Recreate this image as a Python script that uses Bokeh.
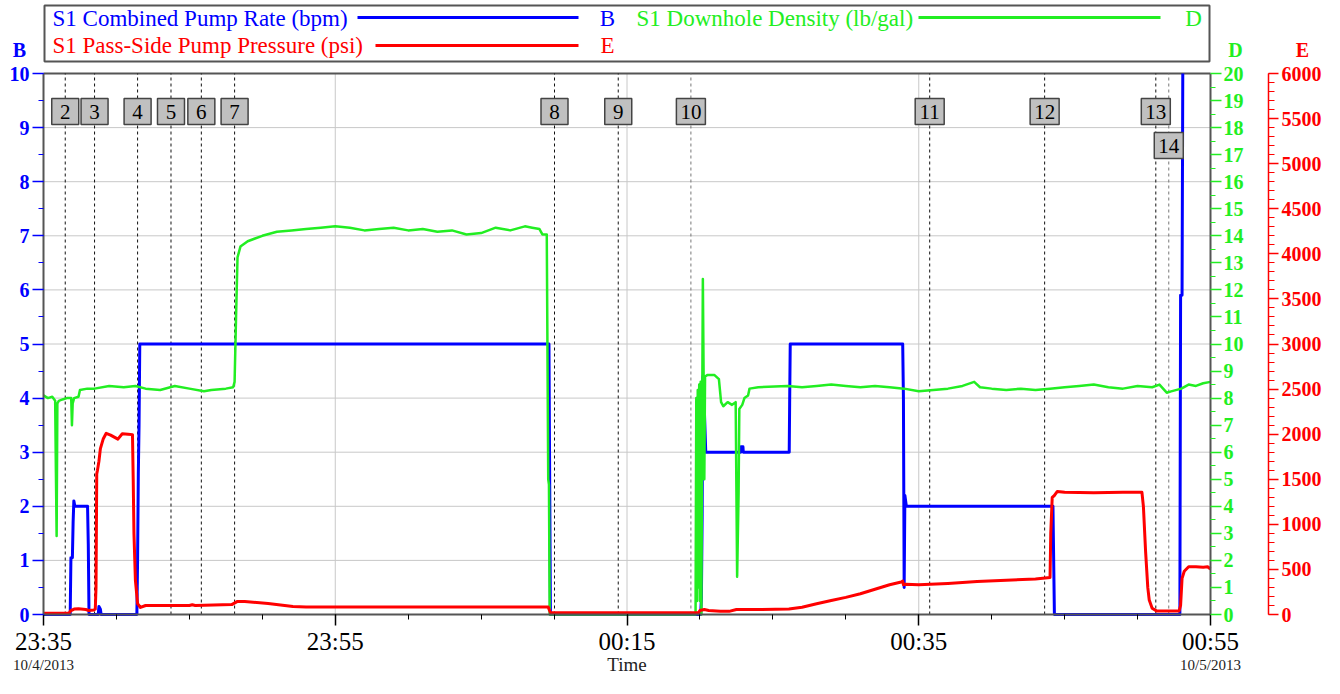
from bokeh.plotting import figure
from bokeh.models import Range1d, LinearAxis, FixedTicker
from bokeh.embed import file_html
from bokeh.resources import INLINE
from bokeh.core.properties import value

FONT = "Liberation Serif"
BLUE = "#0000FF"
RED = "#FF0000"
GREEN = "#22EE22"
AXIS_GREY = "#555555"
GRID_GREY = "#C8C8C8"

# ---- data (time = minutes after 23:35 on 10/4/2013) ----
rate_t = [0, 1.83, 1.88, 1.98, 2.03, 2.08, 2.15, 3.02, 3.07, 3.12, 3.75, 3.8, 3.9, 3.95,
          6.4, 6.45, 6.5, 6.55, 6.6, 34.65, 34.75, 45.05, 45.1, 45.15, 45.2, 45.3, 45.4,
          47.8, 47.82, 47.95, 47.97, 51.12, 51.15, 51.19, 58.9, 58.95, 59.0, 59.05, 59.15,
          69.2, 69.3, 77.9, 77.95, 78.05, 78.1]
rate_v = [0, 0, 1.05, 1.05, 1.7, 2.1, 2.0, 2.0, 1.3, 0, 0, 0.15, 0.1, 0,
          0, 1.0, 2.6, 3.5, 5.0, 5.0, 0, 0, 0.3, 1.8, 4.4, 3.8, 3.0,
          3.0, 3.1, 3.1, 3.0, 3.0, 3.9, 5.0, 5.0, 4.0, 0.5, 2.2, 2.0,
          2.0, 0, 0, 5.9, 5.9, 10.0]

dens_t = [0, 0.3, 0.6, 0.8, 0.85, 0.9, 0.95, 1.05, 1.3, 1.6, 1.9, 1.95, 2.0, 2.1, 2.4, 2.5,
          3.0, 3.5, 4.5, 5.5, 6.3, 7.0, 8.0, 9.0, 10.0, 11.0, 11.5, 12.5, 13.0,
          13.1, 13.2, 13.3, 13.5, 14.0, 14.5, 15.0, 16.0, 17.0, 18.0, 19.0, 20.0, 21.0, 22.0,
          23.0, 24.0, 25.0, 26.0, 27.0, 28.0, 29.0, 30.0, 31.0, 32.0, 33.0, 33.5, 34.0, 34.2,
          34.5, 34.6, 34.65, 34.7,
          44.7, 44.75, 44.8, 44.85, 44.9, 44.95, 45.0, 45.05, 45.1, 45.15, 45.2, 45.25, 45.3,
          45.35, 45.5, 46.0, 46.3, 46.45, 46.6, 46.9, 47.2, 47.45, 47.55, 47.65, 47.7, 47.9,
          48.05, 48.3, 48.4, 49.0, 51.0, 52.0, 53.0, 54.0, 55.0, 56.0, 57.0, 58.0, 59.0, 60.0,
          61.0, 62.0, 63.0, 63.8, 64.2, 65.0, 66.0, 67.0, 68.0, 69.0, 70.0, 71.0, 72.0, 73.0,
          74.0, 75.0, 76.0, 76.5, 77.0, 77.3, 78.0, 78.5, 79.0, 79.5, 80.0]
dens_v = [8.1, 8.0, 8.05, 7.9, 5.3, 2.9, 7.8, 7.9, 7.95, 8.0, 8.0, 7.0, 7.8, 8.0, 8.05, 8.3,
          8.35, 8.35, 8.45, 8.4, 8.45, 8.35, 8.3, 8.45, 8.35, 8.25, 8.3, 8.35, 8.4,
          8.6, 11.0, 13.2, 13.6, 13.8, 13.9, 14.0, 14.15, 14.2, 14.25, 14.3, 14.35, 14.3, 14.2,
          14.25, 14.3, 14.2, 14.25, 14.15, 14.2, 14.05, 14.1, 14.3, 14.2, 14.35, 14.3, 14.25, 14.05,
          14.05, 5.0, 4.8, 0.0,
          0.0, 8.0, 0.5, 8.3, 1.0, 8.5, 0.5, 8.6, 0.0, 7.0, 12.4, 9.0, 5.0,
          8.8, 8.85, 8.85, 8.7, 7.85, 7.7, 7.85, 7.75, 7.85, 1.4, 4.5, 7.6, 7.75,
          8.0, 8.1, 8.35, 8.4, 8.45, 8.4, 8.45, 8.5, 8.45, 8.4, 8.45, 8.4, 8.35, 8.25,
          8.3, 8.35, 8.45, 8.6, 8.4, 8.35, 8.3, 8.35, 8.3, 8.35, 8.4, 8.45, 8.5, 8.4,
          8.35, 8.45, 8.4, 8.5, 8.2, 8.25, 8.35, 8.5, 8.45, 8.55, 8.6]

pres_t = [0, 1.75, 1.85, 2.1, 2.4, 2.9, 3.1, 3.45, 3.55, 3.6, 3.65, 3.7, 3.8, 3.9, 4.1,
          4.3, 4.6, 5.1, 5.4, 5.8, 6.1, 6.15, 6.2, 6.3, 6.45, 6.65, 7.0, 10.0, 10.2, 10.4,
          12.9, 13.3, 13.8, 15.4, 17.1, 18.0, 25.0, 34.6, 34.75, 40.0, 44.9, 45.0, 45.3,
          45.6, 46.4, 47.0, 47.5, 48.5, 51.1, 52.0, 53.0, 54.0, 55.0, 56.0, 57.0, 58.0,
          58.8, 58.9, 58.95, 59.1, 60.0, 62.0, 64.0, 66.0, 68.0, 69.0, 69.05, 69.15, 69.3,
          69.5, 70.0, 72.0, 74.0, 75.3, 75.4, 75.55, 75.7, 75.8, 76.0, 76.3, 77.85, 77.95,
          78.05, 78.2, 78.5, 79.0, 79.5, 79.8, 80.0]
pres_v = [14, 14, 40, 60, 65, 55, 45, 50, 60, 300, 1560, 1600, 1700, 1840, 1950,
          2010, 1990, 1945, 2005, 2000, 1995, 1500, 900, 380, 120, 78, 100, 100, 108, 100,
          110, 145, 145, 122, 89, 82, 82, 82, 20, 20, 20, 45, 55,
          45, 35, 35, 55, 55, 60, 80, 120, 155, 190, 230, 280, 330,
          360, 370, 330, 335, 330, 345, 365, 380, 395, 410, 900, 1300, 1320,
          1365, 1355, 1350, 1355, 1355, 1200, 700, 300, 160, 70, 40, 40, 100,
          400, 480, 530, 530, 525, 530, 505]

event_labels = ["2", "3", "4", "5", "6", "7", "8", "9", "10", "11", "12", "13", "14"]
event_t = [1.49, 3.5, 6.45, 8.74, 10.82, 13.1, 35.03, 39.4, 44.38, 60.75, 68.63, 76.25, 77.14]

time_ticks = [0, 20, 40, 60, 80]
time_labels = ["23:35", "23:55", "00:15", "00:35", "00:55"]
date_ticks = [0, 80]
date_labels = ["10/4/2013", "10/5/2013"]
x_title = "Time"

legend_names = ["S1 Combined Pump Rate (bpm)", "S1 Downhole Density (lb/gal)",
                "S1 Pass-Side Pump Pressure (psi)"]
legend_axes = ["B", "D", "E"]
legend_colors = [BLUE, GREEN, RED]

B_MAX, D_MAX, E_MAX = 10, 20, 6000
T_END = 80

# ---- layout geometry (pixels) ----
W = 1324
H = 678
FRAME_LEFT = 43
FRAME_RIGHT = 1210
E_AXIS_X = 1268
AX_TOP = 73
AX_BOT = 614
PX_B = (AX_BOT - AX_TOP) / B_MAX
PX_M = (FRAME_RIGHT - FRAME_LEFT) / T_END


def yb(py):
    return (AX_BOT - py) / PX_B


def xm(px):
    return (px - FRAME_LEFT) / PX_M


y_lo, y_hi = yb(H), yb(0)

p = figure(frame_width=W, frame_height=H,
           x_range=Range1d(xm(0), xm(W)), y_range=Range1d(y_lo, y_hi),
           toolbar_location=None, output_backend="svg", title=None,
           min_border_left=0, min_border_top=0, min_border_right=0, min_border_bottom=0,
           background_fill_color="white", border_fill_color="white")
p.outline_line_color = None
p.grid.visible = False
p.extra_y_ranges = {"D": Range1d(y_lo * D_MAX / B_MAX, y_hi * D_MAX / B_MAX),
                    "E": Range1d(y_lo * E_MAX / B_MAX, y_hi * E_MAX / B_MAX)}


def style_y(ax, color, major, minor, tick_out, minor_out, standoff, line_color, line_width):
    ax.ticker = FixedTicker(ticks=major, minor_ticks=minor)
    ax.bounds = (major[0], major[-1])
    ax.axis_line_color = line_color
    ax.axis_line_width = line_width
    ax.major_tick_line_color = color
    ax.minor_tick_line_color = color
    ax.major_tick_line_width = 1.5
    ax.major_tick_out = tick_out
    ax.major_tick_in = 0
    ax.minor_tick_out = minor_out
    ax.minor_tick_in = 0
    ax.major_label_text_color = color
    ax.major_label_text_font = FONT
    ax.major_label_text_font_style = "bold"
    ax.major_label_text_font_size = "20px"
    ax.major_label_standoff = standoff


b_major = list(range(0, B_MAX + 1))
ya = p.yaxis[0]
style_y(ya, BLUE, b_major, [i * 0.5 for i in range(2 * B_MAX + 1)], 11, 5, 3, AXIS_GREY, 2)
ya.fixed_location = 0

d_major = list(range(0, D_MAX + 1))
da = LinearAxis(y_range_name="D", fixed_location=T_END)
style_y(da, GREEN, d_major, [i + 0.5 for i in range(D_MAX)], 11, 5, 2, AXIS_GREY, 2)
p.add_layout(da, "right")

e_major = list(range(0, E_MAX + 1, 500))
ea = LinearAxis(y_range_name="E", fixed_location=xm(E_AXIS_X))
style_y(ea, RED, e_major, list(range(0, E_MAX + 1, 100)), 10, 6, 3, RED, 1.5)
p.add_layout(ea, "right")

# bottom time axis, sitting on the zero line
xa = p.xaxis[0]
xa.fixed_location = 0
xa.ticker = FixedTicker(ticks=time_ticks, minor_ticks=list(range(0, T_END + 1, 5)))
xa.bounds = (0, T_END)
xa.major_label_overrides = {t: s for t, s in zip(time_ticks, time_labels)}
xa.axis_line_color = AXIS_GREY
xa.axis_line_width = 2
xa.major_tick_line_color = "black"
xa.minor_tick_line_color = "black"
xa.major_tick_line_width = 1.5
xa.major_tick_out = 11
xa.major_tick_in = 0
xa.minor_tick_out = 5
xa.minor_tick_in = 0
xa.major_label_text_font = FONT
xa.major_label_text_font_size = "25px"
xa.major_label_text_color = "black"
xa.major_label_standoff = 2

dx = LinearAxis(ticker=FixedTicker(ticks=date_ticks), fixed_location=0)
dx.major_label_overrides = {t: s for t, s in zip(date_ticks, date_labels)}
dx.axis_line_color = None
dx.major_tick_line_color = None
dx.minor_tick_line_color = None
dx.major_tick_out = 0
dx.major_tick_in = 0
dx.minor_tick_out = 0
dx.minor_tick_in = 0
dx.major_label_standoff = 42
dx.major_label_text_font = FONT
dx.major_label_text_font_size = "15px"
dx.major_label_text_color = "#222222"
p.add_layout(dx, "below")

p.text(x=[T_END / 2], y=[yb(664)], text=[x_title], text_align="center", text_baseline="middle",
       text_font=value(FONT), text_font_size="19px", text_color="#222222")

# grid lines limited to the plotting band, and the frame's top edge
grid_y = b_major[1:-1]
p.segment(x0=[0] * len(grid_y), y0=grid_y, x1=[T_END] * len(grid_y), y1=grid_y,
          line_color=GRID_GREY, line_width=1)
grid_x = time_ticks[1:-1]
p.segment(x0=grid_x, y0=[0] * len(grid_x), x1=grid_x, y1=[B_MAX] * len(grid_x),
          line_color=GRID_GREY, line_width=1)
p.segment(x0=[0], y0=[B_MAX], x1=[T_END], y1=[B_MAX], line_color=AXIS_GREY, line_width=2)

# event markers
ev_colors = ["#777777" if s in ("10", "14") else "#111111" for s in event_labels]
p.segment(x0=event_t, y0=[0] * len(event_t), x1=event_t, y1=[B_MAX] * len(event_t),
          line_color=ev_colors, line_width=1, line_dash="3 3")

# series
p.line(rate_t, rate_v, line_color=BLUE, line_width=3, line_join="round")
p.line(dens_t, dens_v, line_color=GREEN, line_width=2.5, line_join="round", y_range_name="D")
p.line(pres_t, pres_v, line_color=RED, line_width=3, line_join="round", y_range_name="E")

box_y = [yb(145) if s == "14" else yb(111) for s in event_labels]
box_w = [27 if len(s) == 1 else 29 for s in event_labels]
p.rect(x=event_t, y=box_y, width=box_w, height=26, width_units="screen", height_units="screen",
       fill_color="#C0C0C0", line_color="#444444", line_width=1.5)
p.text(x=event_t, y=box_y, text=event_labels, text_align="center", text_baseline="middle",
       text_font=value(FONT), text_font_size="21px", text_color="black")

# ---- legend box ----
p.quad(left=[xm(44)], right=[xm(1209)], top=[yb(5)], bottom=[yb(61)], fill_color="white",
       line_color=AXIS_GREY, line_width=2)
row_y = [yb(18), yb(18), yb(45)]
line_y = [yb(17), yb(17), yb(45)]
text_x = [xm(52), xm(636), xm(52)]
line_x0 = [xm(357), xm(918), xm(375)]
line_x1 = [xm(578), xm(1160), xm(578)]
letter_x = [xm(607), xm(1193), xm(607)]
p.text(x=text_x, y=row_y, text=legend_names, text_color=legend_colors, text_align="left",
       text_baseline="middle", text_font=value(FONT), text_font_size="23px")
p.segment(x0=line_x0, y0=line_y, x1=line_x1, y1=line_y, line_color=legend_colors, line_width=3)
p.text(x=letter_x, y=row_y, text=legend_axes, text_color=legend_colors, text_align="center",
       text_baseline="middle", text_font=value(FONT), text_font_size="23px")

# axis titles above the scales
p.text(x=[xm(19), xm(1235), xm(1302)], y=[yb(49)] * 3, text=legend_axes, text_color=legend_colors,
       text_align="center", text_baseline="middle", text_font=value(FONT),
       text_font_size="20px", text_font_style="bold")

open("out.html", "w").write(file_html(p, INLINE))
